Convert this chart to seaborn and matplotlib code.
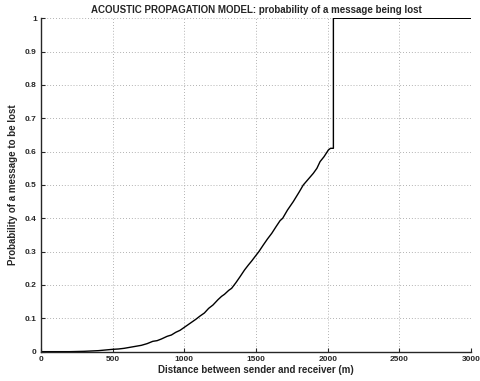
import matplotlib
matplotlib.use("Agg")
import matplotlib.pyplot as plt
import seaborn as sns
import pandas as pd

# distance (m) and loss probability
distance = [0, 100, 200, 300, 350, 400, 450, 500, 540, 580, 620, 660, 700,
            740, 780, 810, 840, 880, 910, 940, 970, 1000, 1040, 1080, 1110,
            1140, 1170, 1200, 1235, 1260, 1280, 1310, 1330, 1360, 1389, 1420,
            1447, 1470, 1493, 1520, 1551, 1580, 1610, 1640, 1668, 1686, 1720,
            1760, 1800, 1830, 1870, 1900, 1925, 1947, 1975, 2005, 2020, 2040,
            2040, 2500, 3000]
prob_lost = [0.0, 0.0, 0.0, 0.001, 0.002, 0.003, 0.005, 0.007, 0.008, 0.010,
             0.013, 0.016, 0.019, 0.024, 0.031, 0.033, 0.038, 0.046, 0.050,
             0.058, 0.064, 0.073, 0.085, 0.097, 0.107, 0.116, 0.130, 0.140,
             0.156, 0.166, 0.172, 0.184, 0.190, 0.207, 0.225, 0.245, 0.260,
             0.272, 0.285, 0.300, 0.320, 0.338, 0.355, 0.375, 0.393, 0.400,
             0.425, 0.450, 0.478, 0.500, 0.520, 0.535, 0.550, 0.570, 0.585,
             0.605, 0.610, 0.610, 1.0, 1.0, 1.0]

df = pd.DataFrame({"distance": distance, "prob": prob_lost})

sns.set_style("ticks")
plt.rcParams["font.family"] = ["Liberation Sans", "DejaVu Sans"]
plt.rcParams["font.weight"] = "bold"

fig = plt.figure(figsize=(4.81, 3.81), dpi=100)
ax = fig.add_axes([0.0852, 0.077, 0.894, 0.875])

sns.lineplot(data=df, x="distance", y="prob", estimator=None, sort=False,
             color="black", linewidth=1.0, ax=ax)

ax.set_xlim(0, 3000)
ax.set_ylim(0, 1)
ax.set_xticks([0, 500, 1000, 1500, 2000, 2500, 3000])
ax.set_yticks([i / 10 for i in range(11)])
ax.set_yticklabels(["0", "0.1", "0.2", "0.3", "0.4", "0.5", "0.6", "0.7",
                    "0.8", "0.9", "1"])
ax.tick_params(direction="in", length=3, width=0.8, labelsize=6, pad=3)
for lbl in ax.get_xticklabels() + ax.get_yticklabels():
    lbl.set_fontweight("bold")

ax.grid(True, linestyle=(0, (1, 2.5)), color="#999999", linewidth=0.6)
sns.despine(ax=ax, top=True, right=True)
ax.spines["left"].set_linewidth(1.0)
ax.spines["bottom"].set_linewidth(1.0)

ax.set_xlabel("Distance between sender and receiver (m)", fontsize=7,
              fontweight="bold", labelpad=1.5)
ax.set_ylabel("Probability of a message to be lost", fontsize=7,
              fontweight="bold", labelpad=5)
ax.set_title("ACOUSTIC PROPAGATION MODEL: probability of a message being lost",
             fontsize=7, fontweight="bold", pad=4)

fig.savefig("out.png", dpi=100)
